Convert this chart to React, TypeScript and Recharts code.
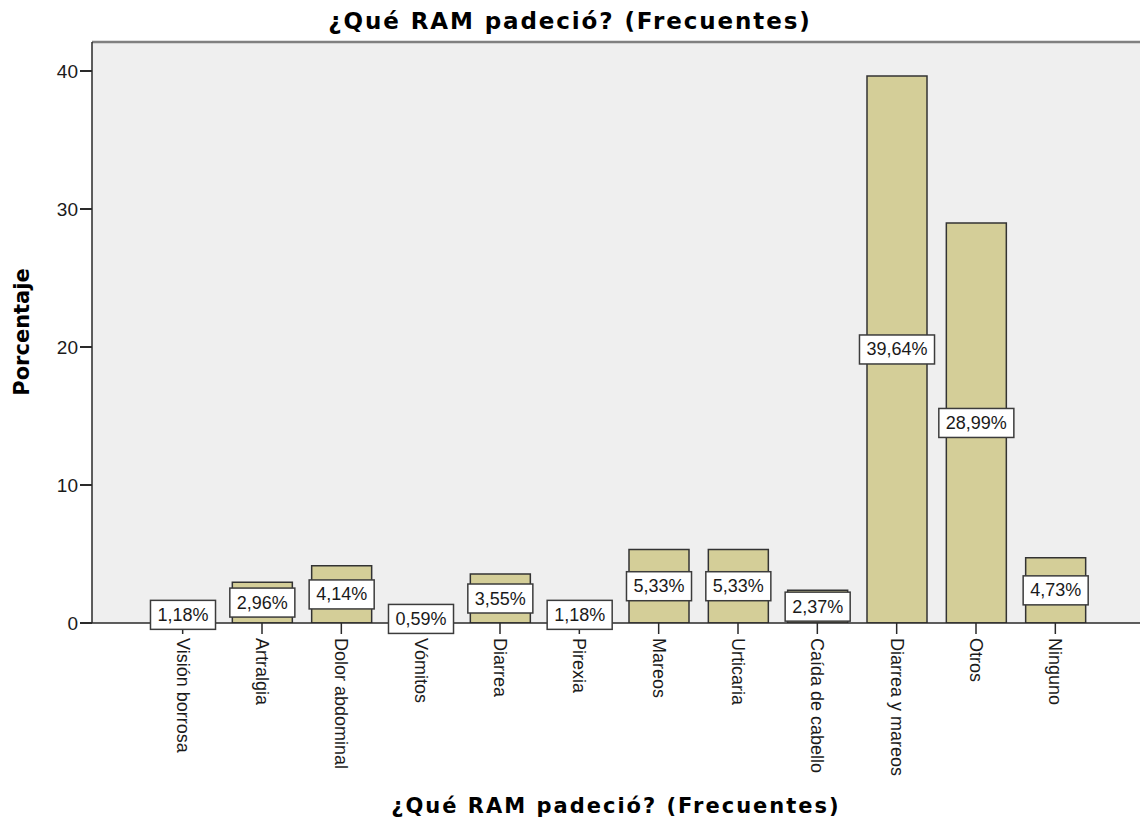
import { BarChart, Bar, XAxis, YAxis, CartesianGrid, LabelList, ReferenceLine } from 'recharts';

const categories = [
  'Visión borrosa',
  'Artralgia',
  'Dolor abdominal',
  'Vómitos',
  'Diarrea',
  'Pirexia',
  'Mareos',
  'Urticaria',
  'Caída de cabello',
  'Diarrea y mareos',
  'Otros',
  'Ninguno',
];
const percentages = [1.18, 2.96, 4.14, 0.59, 3.55, 1.18, 5.33, 5.33, 2.37, 39.64, 28.99, 4.73];
const yTicks = [0, 10, 20, 30, 40];
const yMax = 42.1;

const data = categories.map((name, i) => ({ name, value: percentages[i] }));

const TITLE = '¿Qué RAM padeció? (Frecuentes)';
const SANS = '"Liberation Sans", Arial, sans-serif';
const BOLD = '"DejaVu Sans", Verdana, sans-serif';

const fmt = (v: number) => `${v.toFixed(2).replace('.', ',')}%`;

// rough Arial widths, enough to size the white boxes
const textWidth = (s: string, size: number) =>
  s.split('').reduce((w, c) => w + (c === ',' ? 0.278 : c === '%' ? 0.889 : 0.556), 0) * size;

const ValueBox = (props: any) => {
  const { x, y, width, height, value } = props;
  const cx = x + width / 2;
  const cy = y + height / 2;
  const label = fmt(value);
  const w = textWidth(label, 18) + 14;
  const h = 29;
  return (
    <g>
      <rect x={cx - w / 2} y={cy - h / 2} width={w} height={h} fill="#fff" stroke="#3c3c3c" strokeWidth={1.5} />
      <text x={cx} y={cy} textAnchor="middle" dominantBaseline="central" fontSize={18} fontFamily={SANS} fill="#1a1a1a">
        {label}
      </text>
    </g>
  );
};

const CategoryTick = ({ x, y, payload }: any) => (
  <g transform={`translate(${x},${y})`}>
    <text
      transform="rotate(90)"
      x={2}
      y={0}
      textAnchor="start"
      dominantBaseline="central"
      fontSize={18}
      fontFamily={SANS}
      fill="#1a1a1a"
    >
      {payload.value}
    </text>
  </g>
);

export default function App() {
  return (
    <div style={{ position: 'absolute', left: 0, top: 0, width: 1140, height: 823, background: '#fff' }}>
      <div
        style={{
          position: 'absolute',
          left: 0,
          top: 6,
          width: 1140,
          textAlign: 'center',
          fontFamily: BOLD,
          fontWeight: 'bold',
          fontSize: 23,
          letterSpacing: 1.9,
          color: '#000',
          lineHeight: '30px',
        }}
      >
        {TITLE}
      </div>
      <BarChart
        width={1140}
        height={823}
        data={data}
        margin={{ top: 42, right: 0, bottom: 0, left: 0 }}
      >
        <CartesianGrid fill="#efefef" horizontal={false} vertical={false} />
        <XAxis
          dataKey="name"
          height={200}
          interval={0}
          padding={{ left: 51, right: 45 }}
          axisLine={{ stroke: '#2a2a2a', strokeWidth: 1.5 }}
          tickLine={{ stroke: '#2a2a2a', strokeWidth: 1.5 }}
          tickSize={11}
          tick={<CategoryTick />}
        />
        <YAxis
          width={92}
          domain={[0, yMax]}
          ticks={yTicks}
          allowDataOverflow
          axisLine={{ stroke: '#2a2a2a', strokeWidth: 1.5 }}
          tickLine={{ stroke: '#2a2a2a', strokeWidth: 2 }}
          tickSize={12}
          tickMargin={2}
          tick={{ fontSize: 19, fontFamily: SANS, fill: '#1a1a1a' }}
        />
        <ReferenceLine y={yMax} stroke="#808080" strokeWidth={2.5} ifOverflow="visible" />
        <Bar
          dataKey="value"
          barSize={60}
          fill="#d4ce98"
          stroke="#333"
          strokeWidth={1.5}
          isAnimationActive={false}
        >
          <LabelList dataKey="value" content={<ValueBox />} />
        </Bar>
      </BarChart>
      <div
        style={{
          position: 'absolute',
          left: 22,
          top: 332,
          transform: 'translate(-50%, -50%) rotate(-90deg)',
          whiteSpace: 'nowrap',
          fontFamily: BOLD,
          fontWeight: 'bold',
          fontSize: 21,
          color: '#000',
        }}
      >
        Porcentaje
      </div>
      <div
        style={{
          position: 'absolute',
          left: 92,
          top: 792,
          width: 1048,
          textAlign: 'center',
          fontFamily: BOLD,
          fontWeight: 'bold',
          fontSize: 21,
          letterSpacing: 2,
          color: '#000',
          lineHeight: '28px',
        }}
      >
        {TITLE}
      </div>
    </div>
  );
}
